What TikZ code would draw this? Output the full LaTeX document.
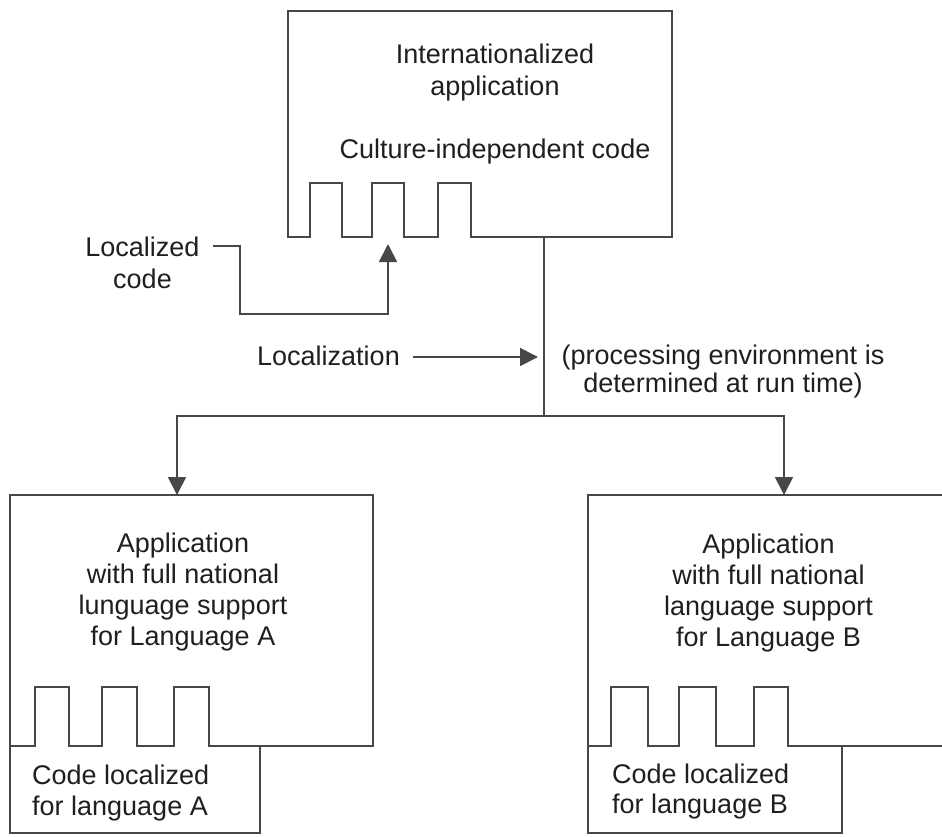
\documentclass[tikz,border=0pt]{standalone}
\usepackage{fontspec}
\setmainfont{Liberation Sans}
\usetikzlibrary{arrows.meta}
\begin{document}
\begin{tikzpicture}[x=1pt,y=-1pt,
  outline/.style={line width=1.7pt, draw=black!72, line join=miter},
  conn/.style={line width=1.7pt, draw=black!72},
  arr/.style={conn, -{Triangle[length=18pt,width=18pt]}},
  txt/.style={inner sep=0pt, text=black!88, font=\fontsize{27}{32}\selectfont, align=center}
]
\useasboundingbox (0,0) rectangle (942,836);
\clip (0,0) rectangle (942,836);

% top box: internationalized application with code sockets
\draw[outline] (288,237) -- (288,11) -- (672,11) -- (672,237)
  -- (471,237) -- (471,183) -- (438,183) -- (438,237)
  -- (404,237) -- (404,183) -- (372,183) -- (372,237)
  -- (342,237) -- (342,183) -- (310,183) -- (310,237) -- cycle;

% bottom-left box
\draw[outline] (10,746) -- (10,495) -- (373,495) -- (373,746)
  -- (209,746) -- (209,687) -- (174,687) -- (174,746)
  -- (137,746) -- (137,687) -- (102,687) -- (102,746)
  -- (69,746) -- (69,687) -- (35,687) -- (35,746) -- cycle;
\draw[outline] (10,746) -- (10,833) -- (260,833) -- (260,746);

% bottom-right box (cut at the right edge)
\draw[outline] (950,495) -- (588,495) -- (588,746)
  -- (611,746) -- (611,687) -- (648,687) -- (648,746)
  -- (679,746) -- (679,687) -- (716,687) -- (716,746)
  -- (754,746) -- (754,687) -- (788,687) -- (788,746) -- (950,746);
\draw[outline] (588,746) -- (588,833) -- (842,833) -- (842,746);

% texts
\node[txt] (title) at (495,72.2) {Internationalized\\application};
\node[txt] (cic) at (495,151.2) {Culture-independent code};
\node[txt] (lc) at (142.5,262.4) {Localized\\code};
\node[txt, anchor=base west] (loc) at (257,365) {Localization};
\node[txt, font=\fontsize{27}{28}\selectfont] (proc) at (723,372) {(processing environment is\\determined at run time)};
\node[txt, font=\fontsize{27}{31}\selectfont] (appA) at (183,591.7) {Application\\with full national\\lunguage support\\for Language A};
\node[txt, font=\fontsize{27}{31}\selectfont, align=left, anchor=west] (codeA) at (32,792.7) {Code localized\\for language A};
\node[txt, font=\fontsize{27}{31}\selectfont] (appB) at (768.5,592.7) {Application\\with full national\\language support\\for Language B};
\node[txt, font=\fontsize{27}{30}\selectfont, align=left, anchor=west] (codeB) at (612,791.2) {Code localized\\for language B};

% connector coordinates
\coordinate (lcs) at (213,246);
\coordinate (lcm) at (240,314);
\coordinate (t2) at (388,244);
\coordinate (vl) at (538,357);
\coordinate (topout) at (544,237);
\coordinate (jn) at (544,416);
\coordinate (inA) at (177,495);
\coordinate (inB) at (784,495);

% connectors
\draw[arr] (lcs) -| (lcm) -| (t2);
\draw[arr] ([xshift=13pt]loc.east |- vl) -- (vl);
\draw[conn] (topout) -- (jn);
\draw[arr] (jn) -| (inA);
\draw[arr] (jn) -| (inB);
\end{tikzpicture}
\end{document}
